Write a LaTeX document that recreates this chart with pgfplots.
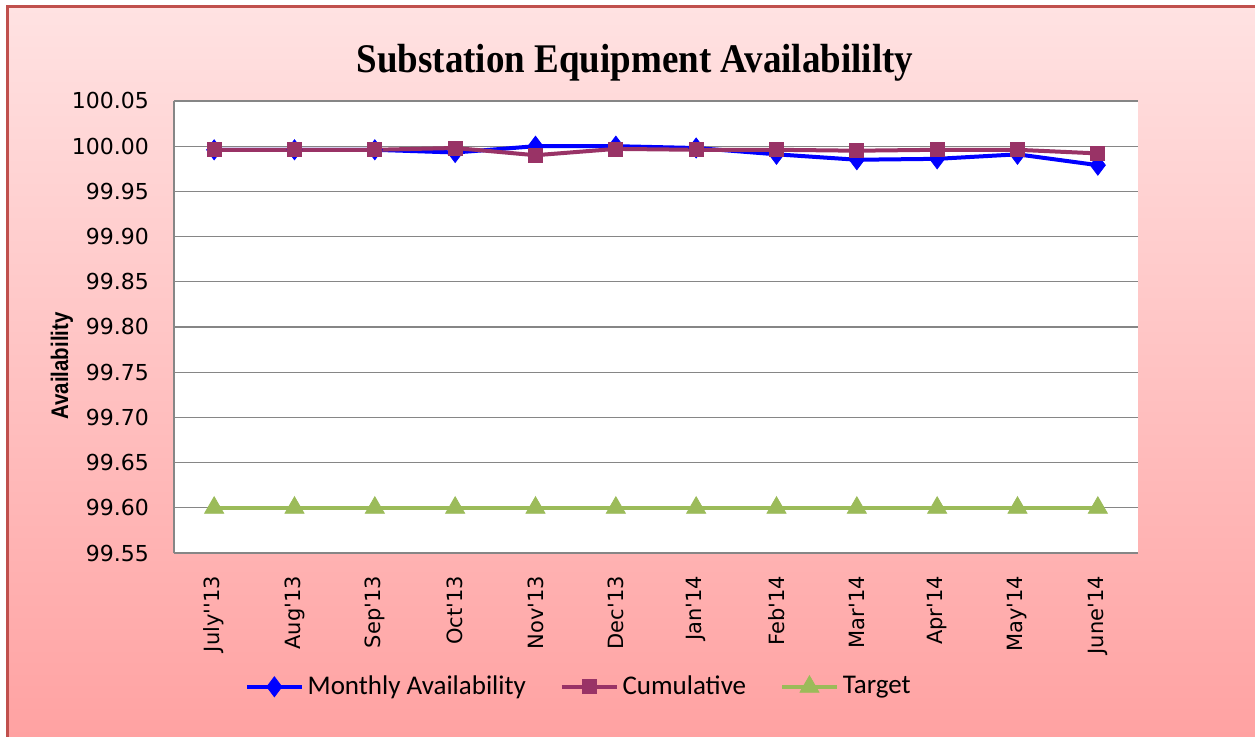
\documentclass[border=0pt]{standalone}
\usepackage{fontspec}
\setmainfont{DejaVu Sans}
\newfontfamily\titlefont{Liberation Serif}
\newfontfamily\legfont{Carlito}
\newfontfamily\labfont{Liberation Sans}
\usepackage{pgfplots}
\pgfplotsset{compat=1.18}

\definecolor{mblue}{RGB}{0,0,255}
\definecolor{cum}{RGB}{153,51,102}
\definecolor{tgt}{RGB}{155,187,89}
\definecolor{bord}{RGB}{192,80,77}
\definecolor{gridg}{RGB}{134,134,134}
\definecolor{pinktop}{RGB}{255,226,226}
\definecolor{pinkbot}{RGB}{255,162,162}

\begin{document}
\begin{tikzpicture}
\useasboundingbox (-87pt,-92pt) rectangle (540.5pt,276.5pt);
\fill[white] (-87pt,-92pt) rectangle (540.5pt,276.5pt);
\shade[top color=pinktop, bottom color=pinkbot] (-83pt,-92pt) rectangle (540.5pt,273pt);
\draw[bord, line width=1.5pt] (-83pt,-92pt) -- (-83pt,273pt) -- (540.5pt,273pt);

% chart title and y label
\node[font=\titlefont\bfseries\fontsize{18.5}{20}\selectfont] at (230.5pt,245pt) {\scalebox{1}[1.1]{Substation Equipment Availabililty}};
\node[rotate=90, font=\labfont\bfseries\fontsize{12}{14}\selectfont] at (-56pt,93.5pt) {\scalebox{0.85}[1]{Availability}};

\begin{axis}[
  at={(0,0)}, anchor=south west,
  scale only axis,
  width=482pt, height=226pt,
  xmin=-0.5, xmax=11.5,
  ymin=99.55, ymax=100.05,
  ytick={99.55,99.60,99.65,99.70,99.75,99.80,99.85,99.90,99.95,100.00,100.05},
  yticklabel={\pgfmathprintnumber[fixed,fixed zerofill,precision=2]{\tick}},
  /pgf/number format/assume math mode=true,
  xtick={0,...,11},
  xticklabels={July\textquotesingle\textquotesingle13,Aug\textquotesingle13,Sep\textquotesingle13,Oct\textquotesingle13,Nov\textquotesingle13,Dec\textquotesingle13,Jan\textquotesingle14,Feb\textquotesingle14,Mar\textquotesingle14,Apr\textquotesingle14,May\textquotesingle14,June\textquotesingle14},
  x tick label style={yshift=-8pt, rotate=90, anchor=east, font=\fontsize{10.5}{12}\selectfont},
  y tick label style={xshift=-9pt, font=\fontsize{11}{13}\selectfont},
  axis x line*=bottom, axis y line*=left,
  axis line style={gridg, line width=0.6pt},
  ymajorgrids, grid style={gridg, line width=0.6pt},
  major tick length=0pt,
  axis background/.style={fill=white},
  legend columns=3,
  legend style={at={(0.421,-0.296)}, anchor=center, draw=none, fill=none,
    font=\legfont\fontsize{13.5}{15}\selectfont,
    /tikz/every even column/.append style={column sep=15pt}},
  legend image code/.code={\draw[mark repeat=2,mark phase=2,#1] plot coordinates {(0cm,0cm)(0.48cm,0cm)(0.96cm,0cm)};},
]
\addplot[mblue, line width=2pt, mark=diamond*, mark size=5pt, mark options={solid, line width=0.4pt}] coordinates {
  (0,99.996)(1,99.996)(2,99.996)(3,99.993)(4,100.000)(5,100.000)
  (6,99.998)(7,99.991)(8,99.985)(9,99.986)(10,99.991)(11,99.979)
};
\addlegendentry{Monthly Availability}
\addplot[cum, line width=2pt, mark=square*, mark size=3.5pt, mark options={solid, line width=0.4pt}] coordinates {
  (0,99.996)(1,99.996)(2,99.996)(3,99.998)(4,99.990)(5,99.997)
  (6,99.996)(7,99.996)(8,99.995)(9,99.996)(10,99.996)(11,99.992)
};
\addlegendentry{Cumulative}
\addplot[tgt, line width=2pt, mark=triangle*, mark size=5.5pt, mark options={solid, line width=0.4pt}] coordinates {
  (0,99.60)(1,99.60)(2,99.60)(3,99.60)(4,99.60)(5,99.60)
  (6,99.60)(7,99.60)(8,99.60)(9,99.60)(10,99.60)(11,99.60)
};
\addlegendentry{Target}
\end{axis}
\end{tikzpicture}
\end{document}
